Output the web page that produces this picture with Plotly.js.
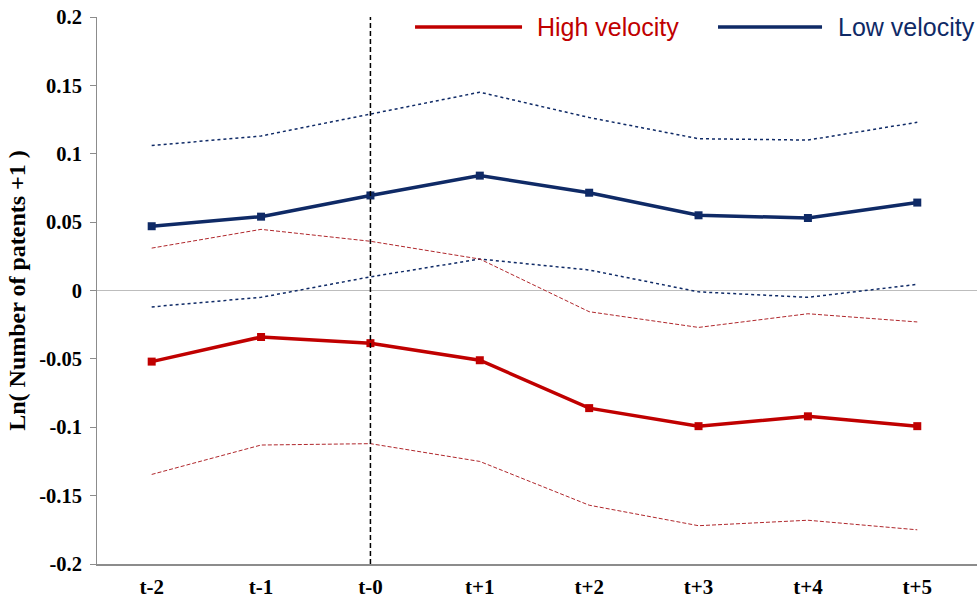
<!DOCTYPE html>
<html><head><meta charset="utf-8">
<script src="https://cdn.plot.ly/plotly-3.0.1.min.js"></script>
<style>body{margin:0;background:#fff}#c{width:977px;height:601px}</style>
</head><body><div id="c"></div>
<script>
const periods = ["t-2","t-1","t-0","t+1","t+2","t+3","t+4","t+5"];
const lowMean  = [0.047, 0.054, 0.0695, 0.084, 0.0715, 0.055, 0.053, 0.0643];
const lowUpper = [0.106, 0.113, 0.129, 0.145, 0.1265, 0.111, 0.110, 0.123];
const lowLower = [-0.012, -0.005, 0.010, 0.023, 0.015, -0.001, -0.005, 0.0045];
const highMean  = [-0.052, -0.034, -0.0385, -0.051, -0.086, -0.0992, -0.092, -0.0992];
const highUpper = [0.031, 0.0447, 0.036, 0.023, -0.0155, -0.027, -0.017, -0.023];
const highLower = [-0.1345, -0.113, -0.112, -0.125, -0.157, -0.172, -0.168, -0.175];
const yTickVals = [0.2, 0.15, 0.1, 0.05, 0, -0.05, -0.1, -0.15, -0.2];
const yTickText = ["0.2","0.15","0.1","0.05","0","-0.05","-0.1","-0.15","-0.2"];

const NAVY = "#0f2a66", RED = "#c00000", DRED = "#b0272c";
const SERIF = "Liberation Serif, Times New Roman, serif";
const traces = [
  {x: periods, y: lowUpper, mode: "lines", line: {color: NAVY, width: 1.5, dash: "dot"}, showlegend: false, hoverinfo: "skip"},
  {x: periods, y: lowLower, mode: "lines", line: {color: NAVY, width: 1.5, dash: "dot"}, showlegend: false, hoverinfo: "skip"},
  {x: periods, y: highUpper, mode: "lines", line: {color: DRED, width: 1, dash: "4px,2px"}, showlegend: false, hoverinfo: "skip"},
  {x: periods, y: highLower, mode: "lines", line: {color: DRED, width: 1, dash: "4px,2px"}, showlegend: false, hoverinfo: "skip"},
  {x: periods, y: lowMean, mode: "lines+markers", name: "Low velocity", line: {color: NAVY, width: 3.5}, marker: {symbol: "square", size: 8, color: NAVY}, showlegend: false},
  {x: periods, y: highMean, mode: "lines+markers", name: "High velocity", line: {color: RED, width: 3.5}, marker: {symbol: "square", size: 8, color: RED}, showlegend: false}
];

const layout = {
  width: 977, height: 601,
  margin: {l: 97, r: 0, t: 17, b: 37},
  paper_bgcolor: "#fff", plot_bgcolor: "#fff",
  showlegend: false,
  xaxis: {
    type: "category", showgrid: false, zeroline: false,
    showline: true, linecolor: "#8c8c8c", linewidth: 1.5,
    ticks: "", ticklabelstandoff: 3,
    tickfont: {family: SERIF, size: 21, color: "#000", weight: "bold"},
    range: [-0.5, 7.546]
  },
  yaxis: {
    range: [-0.2, 0.2], tickvals: yTickVals, ticktext: yTickText,
    showgrid: false, zeroline: true, zerolinecolor: "#bdbdbd", zerolinewidth: 1.5,
    showline: true, linecolor: "#8c8c8c", linewidth: 1,
    ticks: "outside", ticklen: 6, tickcolor: "#8c8c8c", ticklabelstandoff: 4,
    tickfont: {family: SERIF, size: 20.5, color: "#000", weight: "bold"},
    title: {text: "<b>Ln( Number of patents +1 )</b>", font: {family: SERIF, size: 24, color: "#000"}, standoff: 6}
  },
  shapes: [
    {type: "line", xref: "x", yref: "paper", x0: 2, x1: 2, y0: 0, y1: 1, line: {color: "#000", width: 1.5, dash: "5px,3px"}},
    {type: "line", xref: "paper", yref: "paper", x0: 0.3614, x1: 0.483, y0: 0.9817, y1: 0.9817, line: {color: RED, width: 3.5}},
    {type: "line", xref: "paper", yref: "paper", x0: 0.7057, x1: 0.8239, y0: 0.9817, y1: 0.9817, line: {color: NAVY, width: 3.5}}
  ],
  annotations: [
    {xref: "paper", yref: "paper", x: 0.4977, y: 0.9817, xanchor: "left", yanchor: "middle", showarrow: false, text: "High velocity", font: {family: "Liberation Sans", size: 25, color: RED}},
    {xref: "paper", yref: "paper", x: 0.8398, y: 0.9817, xanchor: "left", yanchor: "middle", showarrow: false, text: "Low velocity", font: {family: "Liberation Sans", size: 25, color: NAVY}}
  ]
};
Plotly.newPlot("c", traces, layout, {displayModeBar: false, staticPlot: true});
</script></body></html>
